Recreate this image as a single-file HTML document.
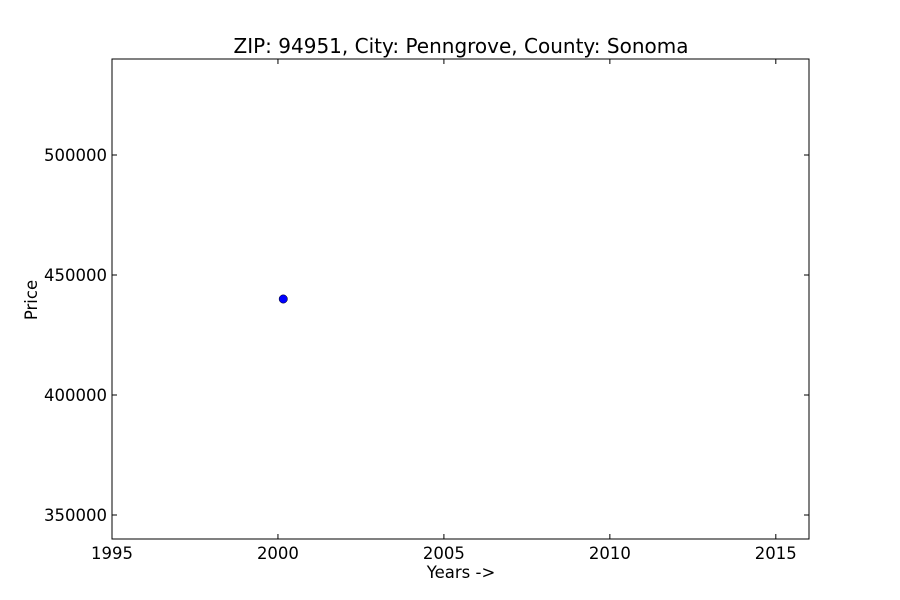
<!DOCTYPE html>
<html><head><meta charset="utf-8"><style>
body{margin:0;background:#fff;}
svg{display:block;font-family:"DejaVu Sans","Liberation Sans",sans-serif;}
</style></head><body>
<svg id="chart" width="900" height="600">
<text x="461" y="53" font-size="20" text-anchor="middle">ZIP: 94951, City: Penngrove, County: Sonoma</text>
<rect x="112" y="59" width="697" height="480" fill="none" stroke="#000" stroke-width="1"/>
<g id="xt"></g>
<g id="yt"></g>
<g id="pts"></g>
<text x="461" y="578" font-size="16.5" text-anchor="middle">Years -&gt;</text>
<text x="37" y="300" font-size="16.5" text-anchor="middle" transform="rotate(-90 37 300)">Price</text>
</svg>
<script>
const xTicks=[1995,2000,2005,2010,2015];
const yTicks=[350000,400000,450000,500000];
const years=[2000.16];
const prices=[440000];
const L=112,R=809,T=59,B=539,x0=1995,x1=2016,y0=340000,y1=540000;
const sx=v=>L+(v-x0)/(x1-x0)*(R-L);
const sy=v=>B-(v-y0)/(y1-y0)*(B-T);
const NS="http://www.w3.org/2000/svg";
function mk(t,a,p){const e=document.createElementNS(NS,t);for(const k in a)e.setAttribute(k,a[k]);p.appendChild(e);return e;}
const xt=document.getElementById('xt'),yt=document.getElementById('yt'),pts=document.getElementById('pts');
xTicks.forEach(v=>{const x=sx(v);
const a=mk('line',{x1:x,x2:x,y1:B,y2:B-5,stroke:'#000'},xt);
const b=mk('line',{x1:x,x2:x,y1:T,y2:T+5,stroke:'#000'},xt);
const t=mk('text',{x:x,y:B+20,'font-size':16.5,'text-anchor':'middle'},xt);t.textContent=v;});
yTicks.forEach(v=>{const y=sy(v);
const a=mk('line',{x1:L,x2:L+5,y1:y,y2:y,stroke:'#000'},yt);
const b=mk('line',{x1:R,x2:R-5,y1:y,y2:y,stroke:'#000'},yt);
const t=mk('text',{x:L-5,y:y+6,'font-size':16.5,'text-anchor':'end'},yt);t.textContent=v;});
years.forEach((v,i)=>{const c=mk('circle',{cx:sx(v),cy:sy(prices[i]),r:4.2,fill:'#0000ff',stroke:'#000','stroke-width':0.5},pts);

});
</script>
</body></html>
